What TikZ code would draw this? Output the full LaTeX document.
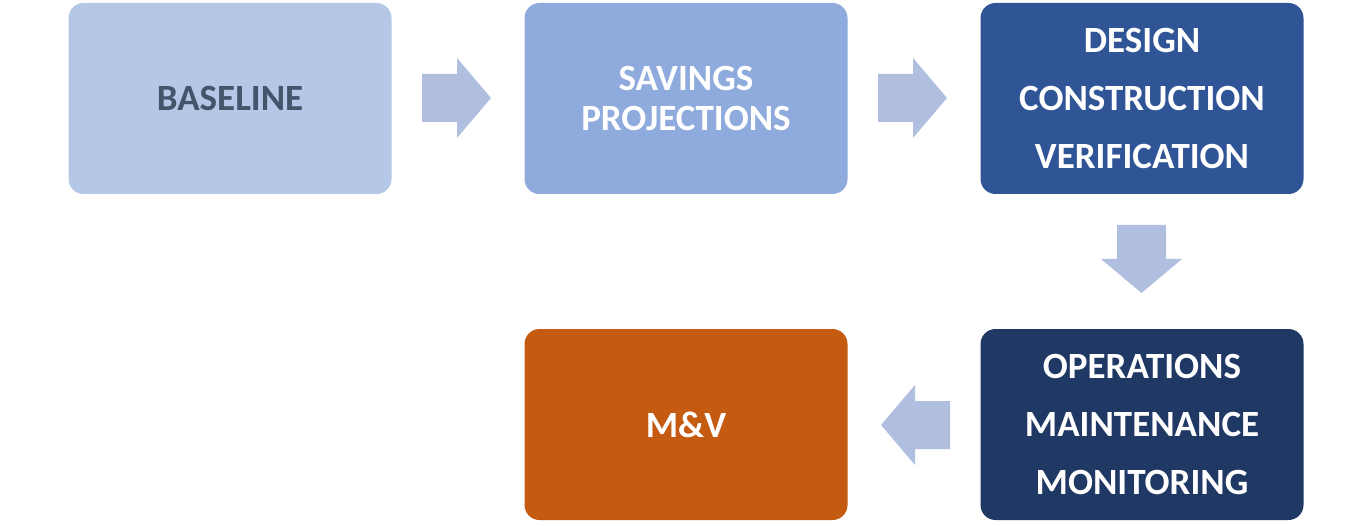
\documentclass[tikz,border=0pt]{standalone}
\usepackage{fontspec}
\setmainfont{Carlito}
\definecolor{cA}{HTML}{B4C7E7}
\definecolor{cB}{HTML}{8FAADC}
\definecolor{cC}{HTML}{2F5597}
\definecolor{cD}{HTML}{203864}
\definecolor{cE}{HTML}{C55A11}
\definecolor{cT}{HTML}{44546A}
\definecolor{cArr}{HTML}{B0BEE0}
\begin{document}
\begin{tikzpicture}[x=1pt,y=-1pt,
  box/.style={rounded corners=15pt,minimum width=323pt,minimum height=191pt,
    inner sep=0pt,align=center,font=\fontsize{37}{58}\selectfont\bfseries,text=white},
  arr/.style={fill=cArr,draw=none}]
\useasboundingbox (0,0) rectangle (1372,526);
\node[box,fill=cA,text=cT] (base) at (230,98.5) {BASELINE};
\node[box,fill=cB,font=\fontsize{37}{40}\selectfont\bfseries] (sav) at (686,98.5) {SAVINGS\\PROJECTIONS};
\node[box,fill=cC] (des) at (1142,98.5) {DESIGN\\CONSTRUCTION\\VERIFICATION};
\node[box,fill=cD] (ops) at (1142,424.5) {OPERATIONS\\MAINTENANCE\\MONITORING};
\node[box,fill=cE] (mv) at (686,424.5) {M\&V};
% right arrows
\coordinate (r1) at (422,98);
\coordinate (r2) at (878,98);
\foreach \c in {r1,r2}{
  \fill[arr] ([shift={(0,-24)}]\c) -- ++(35,0) -- ++(0,-16) -- ++(34,40) -- ++(-34,40) -- ++(0,-16) -- ++(-35,0) -- cycle;
}
% down arrow
\coordinate (d1) at (1141.5,225);
\fill[arr] ([shift={(-24.5,0)}]d1) -- ++(49,0) -- ++(0,34) -- ++(16,0) -- ++(-40.5,34) -- ++(-40.5,-34) -- ++(16,0) -- cycle;
% left arrow
\coordinate (l1) at (950,425);
\fill[arr] ([shift={(0,-24)}]l1) -- ++(-35,0) -- ++(0,-16) -- ++(-34,40) -- ++(34,40) -- ++(0,-16) -- ++(35,0) -- cycle;
\end{tikzpicture}
\end{document}
